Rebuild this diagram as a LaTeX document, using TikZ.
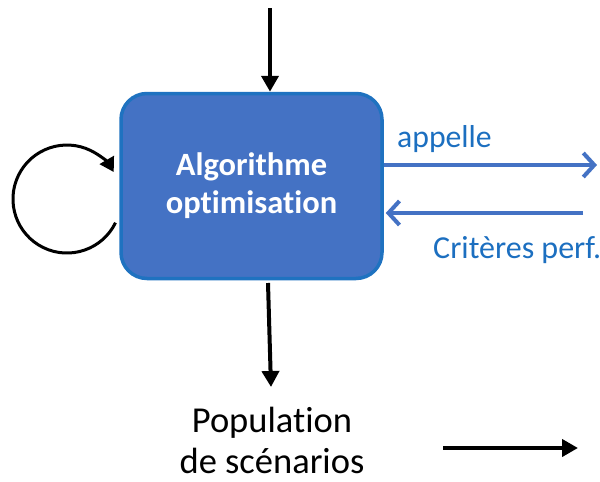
\documentclass[tikz,border=0pt]{standalone}
\usepackage{fontspec}
\setmainfont{Carlito}[Ligatures={NoCommon}]
\usetikzlibrary{arrows.meta}
\definecolor{boxfill}{HTML}{4472C4}
\definecolor{boxline}{HTML}{1F72C0}
\definecolor{linkblue}{HTML}{4472C4}
\definecolor{labelblue}{HTML}{1C6FC0}
\tikzset{
  blackarrow/.style={draw=black, line width=4pt, -{Triangle[length=16pt,width=17pt]}},
  bluearrow/.style={draw=linkblue, line width=4pt, -{Straight Barb[length=11pt,width=24pt,line width=4pt]}},
  procbox/.style={draw=boxline, fill=boxfill, line width=3.5pt, rounded corners=26pt,
    minimum width=261pt, minimum height=185pt, text=white, align=center,
    font=\fontsize{32.5}{38}\selectfont\bfseries},
  bluelabel/.style={text=labelblue, inner sep=0pt},
  plainlabel/.style={text=black, font=\fontsize{36.5}{41}\selectfont, align=center, inner sep=0pt}
}
\begin{document}
\begin{tikzpicture}[x=1pt, y=-1pt]
  \useasboundingbox (0,0) rectangle (600,482);

  % optimisation block
  \node[procbox] (box) at (251.5,186) {Algorithme\\optimisation};

  % input from above
  \coordinate (topin) at (270,8);
  \draw[blackarrow] (topin) -- (topin |- box.north);

  % self loop on the left side
  \coordinate (loopstart) at (115.5,222.7);
  \draw[draw=black, line width=3pt, -{Triangle[length=14pt,width=16pt]}]
    (loopstart) arc[start angle=26, end angle=330, radius=54];

  % calls to the evaluator and returned criteria
  \coordinate (calltip) at (597,165);
  \draw[bluearrow] (box.east |- calltip) -- (calltip);
  \coordinate (critsrc) at (583,213);
  \draw[bluearrow] (critsrc) -- ([xshift=2pt]box.east |- critsrc);
  \node[bluelabel, font=\fontsize{31.7}{36}\selectfont, anchor=base west] (appelle) at (397,147) {appelle};
  \node[bluelabel, font=\fontsize{32}{36}\selectfont, anchor=base west] (crit) at (433,258) {Critères perf.};

  % output population
  \coordinate (outstart) at (268,283);
  \coordinate (outtip) at (271,387);
  \draw[blackarrow] (outstart) -- (outtip);
  \node[plainlabel] (pop) at (272,440.5) {Population\\de scénarios};

  % trailing arrow
  \coordinate (trailstart) at (443,448);
  \coordinate (trailtip) at (578,448);
  \draw[blackarrow] (trailstart) -- (trailtip);
\end{tikzpicture}
\end{document}
